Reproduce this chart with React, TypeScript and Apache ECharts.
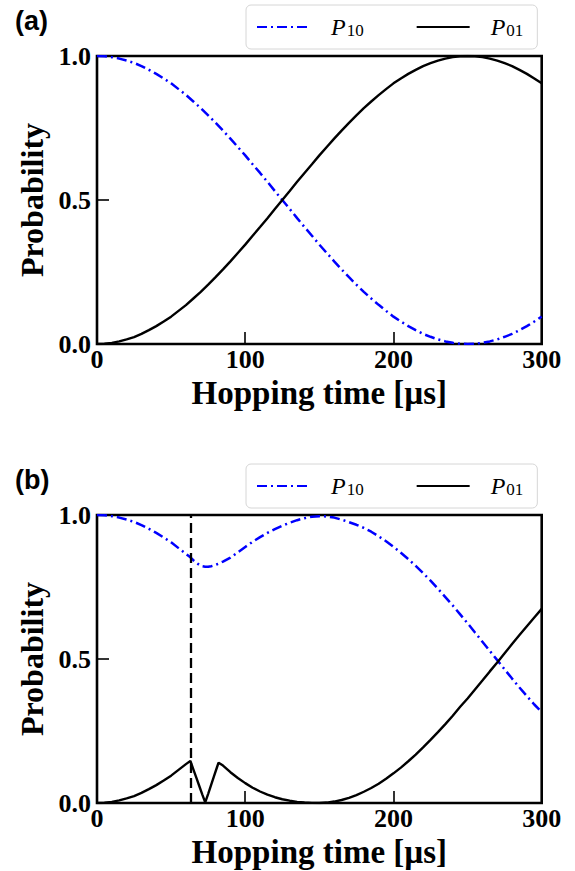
import React, { useEffect, useRef } from "react";
import * as echarts from "echarts";

// ---------- data ----------
const X_TICKS = [0, 100, 200, 300];
const Y_TICKS = [0, 0.5, 1.0];
const X_NAME = "Hopping time [µs]";
const Y_NAME = "Probability";
const SERIES_NAMES = ["P10", "P01"];
const PANEL_LABELS = ["(a)", "(b)"];
const SWITCH_TIME_B = 63; // vertical dashed marker in panel (b)

// panel (a)
const T_A = [
  0, 5, 10, 15, 20, 25, 30, 35, 40, 45, 50, 55, 60, 65, 70, 75, 80, 85, 90, 95,
  100, 105, 110, 115, 120, 125, 130, 135, 140, 145, 150, 155, 160, 165, 170, 175,
  180, 185, 190, 195, 200, 205, 210, 215, 220, 225, 230, 235, 240, 245, 250, 255,
  260, 265, 270, 275, 280, 285, 290, 295, 300,
];
const P10_A = [
  1, 0.999, 0.996, 0.991, 0.984, 0.976, 0.965, 0.952, 0.938, 0.922, 0.905, 0.885,
  0.865, 0.842, 0.819, 0.794, 0.768, 0.741, 0.713, 0.684, 0.655, 0.624, 0.594,
  0.563, 0.531, 0.5, 0.469, 0.437, 0.406, 0.376, 0.345, 0.316, 0.287, 0.259, 0.232,
  0.206, 0.181, 0.158, 0.136, 0.115, 0.095, 0.078, 0.062, 0.048, 0.035, 0.025,
  0.016, 0.009, 0.004, 0.001, 0, 0.001, 0.004, 0.009, 0.016, 0.025, 0.035, 0.048,
  0.062, 0.078, 0.095,
];
const P01_A = [
  0, 0.001, 0.004, 0.009, 0.016, 0.024, 0.035, 0.048, 0.062, 0.078, 0.095, 0.115,
  0.135, 0.158, 0.181, 0.206, 0.232, 0.259, 0.287, 0.316, 0.345, 0.376, 0.406,
  0.437, 0.469, 0.5, 0.531, 0.563, 0.594, 0.624, 0.655, 0.684, 0.713, 0.741, 0.768,
  0.794, 0.819, 0.842, 0.864, 0.885, 0.905, 0.922, 0.938, 0.952, 0.965, 0.975,
  0.984, 0.991, 0.996, 0.999, 1, 0.999, 0.996, 0.991, 0.984, 0.975, 0.965, 0.952,
  0.938, 0.922, 0.905,
];

// panel (b)
const T_B = [
  0, 5, 10, 15, 20, 25, 30, 35, 40, 45, 50, 55, 60, 63, 65, 67, 69, 71, 73, 75,
  77, 79, 81, 82, 85, 90, 95, 100, 105, 110, 115, 120, 125, 130, 135, 140, 145,
  150, 155, 160, 165, 170, 175, 180, 185, 190, 195, 200, 205, 210, 215, 220, 225,
  230, 235, 240, 245, 250, 255, 260, 265, 270, 275, 280, 285, 290, 295, 300,
];
const P10_B = [
  1, 0.999, 0.996, 0.991, 0.984, 0.976, 0.965, 0.952, 0.938, 0.922, 0.905, 0.885,
  0.865, 0.853, 0.843, 0.834, 0.827, 0.822, 0.82, 0.82, 0.822, 0.825, 0.829,
  0.831, 0.838, 0.852, 0.87, 0.889, 0.907, 0.923, 0.938, 0.951, 0.963, 0.973,
  0.982, 0.989, 0.994, 0.996, 0.995, 0.991, 0.984, 0.975, 0.966, 0.955, 0.942,
  0.926, 0.909, 0.89, 0.869, 0.847, 0.823, 0.798, 0.772, 0.744, 0.715, 0.686,
  0.655, 0.624, 0.592, 0.56, 0.528, 0.496, 0.464, 0.432, 0.401, 0.371, 0.342,
  0.316,
];
const P01_B = [
  0, 0.001, 0.004, 0.009, 0.016, 0.024, 0.035, 0.048, 0.062, 0.078, 0.095, 0.115,
  0.135, 0.146, 0.117, 0.088, 0.059, 0.03, 0.002, 0.032, 0.063, 0.094, 0.125,
  0.14, 0.13, 0.107, 0.087, 0.069, 0.053, 0.04, 0.029, 0.02, 0.013, 0.008, 0.004,
  0.0015, 0.0003, 0, 0.0015, 0.005, 0.0105, 0.018, 0.0275, 0.039, 0.052, 0.067,
  0.084, 0.103, 0.123, 0.145, 0.168, 0.193, 0.219, 0.246, 0.274, 0.303, 0.334,
  0.363, 0.394, 0.425, 0.457, 0.488, 0.52, 0.552, 0.583, 0.614, 0.644, 0.674,
];

// ---------- styling ----------
const SERIF = "'Liberation Serif', 'Times New Roman', 'DejaVu Serif', serif";
const SANS = "'Liberation Sans', Arial, 'DejaVu Sans', sans-serif";
const BLUE = "#0000ff";
const DASHDOT = [10, 4, 2, 4];

const GRID_LEFT = 97;
const GRID_WIDTH = 444.7;
const GRID_HEIGHT = 288;
const PANEL_TOPS = [56, 515];
const LEGEND_TOPS = [5, 464];
const LABEL_TOPS = [7, 466];

export default function App() {
  const ref = useRef<HTMLDivElement>(null);

  useEffect(() => {
    if (!ref.current) return;
    const chart = echarts.init(ref.current, undefined, { renderer: "svg" });

    const grids = PANEL_TOPS.map((top) => ({
      left: GRID_LEFT,
      top,
      width: GRID_WIDTH,
      height: GRID_HEIGHT,
      show: true,
      borderColor: "#000",
      borderWidth: 2.6,
      backgroundColor: "transparent",
      containLabel: false,
    }));

    const xAxes = PANEL_TOPS.map((_, i) => ({
      type: "value",
      gridIndex: i,
      min: X_TICKS[0],
      max: X_TICKS[X_TICKS.length - 1],
      interval: X_TICKS[1] - X_TICKS[0],
      name: X_NAME,
      nameLocation: "middle",
      nameGap: 32,
      nameTextStyle: { fontFamily: SERIF, fontWeight: "bold", fontSize: 33, color: "#000" },
      axisLine: { show: false },
      axisTick: { show: true, inside: true, length: 12, lineStyle: { color: "#000", width: 1.6 } },
      axisLabel: {
        fontFamily: SERIF,
        fontWeight: "bold",
        fontSize: 26,
        color: "#000",
        margin: 2,
        lineHeight: 26,
      },
      splitLine: { show: false },
    }));

    const yAxes = PANEL_TOPS.map((_, i) => ({
      type: "value",
      gridIndex: i,
      min: Y_TICKS[0],
      max: Y_TICKS[Y_TICKS.length - 1],
      interval: Y_TICKS[1] - Y_TICKS[0],
      name: Y_NAME,
      nameLocation: "middle",
      nameGap: 39,
      nameTextStyle: { fontFamily: SERIF, fontWeight: "bold", fontSize: 32, color: "#000" },
      axisLine: { show: false },
      axisTick: { show: true, inside: true, length: 12, lineStyle: { color: "#000", width: 1.6 } },
      axisLabel: {
        fontFamily: SERIF,
        fontWeight: "bold",
        fontSize: 26,
        color: "#000",
        margin: 6,
        formatter: (v: number) => v.toFixed(1),
      },
      splitLine: { show: false },
    }));

    const mk = (t: number[], v: number[]) => t.map((x, i) => [x, v[i]]);

    const series: any[] = [
      {
        name: SERIES_NAMES[0],
        type: "line",
        xAxisIndex: 0,
        yAxisIndex: 0,
        data: mk(T_A, P10_A),
        symbol: "none",
        smooth: false,
        lineStyle: { color: BLUE, width: 2.5, type: DASHDOT },
        itemStyle: { color: BLUE },
        z: 3,
      },
      {
        name: SERIES_NAMES[1],
        type: "line",
        xAxisIndex: 0,
        yAxisIndex: 0,
        data: mk(T_A, P01_A),
        symbol: "none",
        smooth: false,
        lineStyle: { color: "#000", width: 2.4, type: "solid" },
        itemStyle: { color: "#000" },
        z: 3,
      },
      {
        name: SERIES_NAMES[0],
        type: "line",
        xAxisIndex: 1,
        yAxisIndex: 1,
        data: mk(T_B, P10_B),
        symbol: "none",
        smooth: false,
        lineStyle: { color: BLUE, width: 2.5, type: DASHDOT },
        itemStyle: { color: BLUE },
        z: 3,
        markLine: {
          silent: true,
          symbol: "none",
          label: { show: false },
          lineStyle: { color: "#000", width: 2.3, type: [10, 5] },
          data: [{ xAxis: SWITCH_TIME_B }],
        },
      },
      {
        name: SERIES_NAMES[1],
        type: "line",
        xAxisIndex: 1,
        yAxisIndex: 1,
        data: mk(T_B, P01_B),
        symbol: "none",
        smooth: false,
        lineStyle: { color: "#000", width: 2.4, type: "solid" },
        itemStyle: { color: "#000" },
        z: 3,
      },
    ];

    const legends = LEGEND_TOPS.map((top) => ({
      left: 246,
      top,
      orient: "horizontal",
      data: SERIES_NAMES,
      itemWidth: 53,
      itemHeight: 14,
      itemGap: 52,
      padding: [10, 14, 10, 10],
      backgroundColor: "#fff",
      borderColor: "#d6d6d6",
      borderWidth: 1,
      borderRadius: 5,
      selectedMode: false,
      itemStyle: { opacity: 0, borderWidth: 0 },
      formatter: (name: string) => `{p|${name.charAt(0)}}{s|${name.slice(1)}}`,
      textStyle: {
        color: "#000",
        rich: {
          p: {
            fontFamily: SERIF,
            fontStyle: "italic",
            fontSize: 24,
            lineHeight: 24,
            verticalAlign: "bottom",
            padding: [0, 1, 0, 16],
            color: "#000",
          },
          s: {
            fontFamily: SERIF,
            fontSize: 17,
            lineHeight: 17,
            verticalAlign: "bottom",
            color: "#000",
          },
        },
      },
    }));

    const graphic = PANEL_LABELS.map((label, i) => ({
      type: "text",
      left: 15,
      top: LABEL_TOPS[i],
      style: {
        text: label,
        font: `bold 27px ${SANS}`,
        fill: "#000",
      },
    }));

    chart.setOption({
      animation: false,
      backgroundColor: "#fff",
      grid: grids,
      xAxis: xAxes,
      yAxis: yAxes,
      legend: legends,
      series,
      graphic,
    });

    return () => chart.dispose();
  }, []);

  return (
    <div
      ref={ref}
      style={{ position: "absolute", left: 0, top: 0, width: 575, height: 871 }}
    />
  );
}
